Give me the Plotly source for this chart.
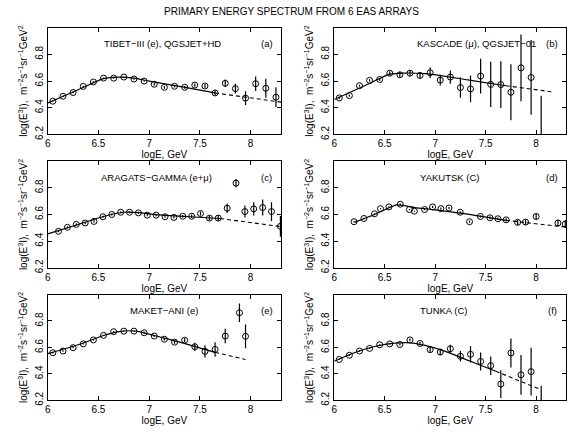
import plotly.graph_objects as go

# ---------------- data ----------------
# (a) TIBET-III
a_x = [6.05, 6.15, 6.25, 6.35, 6.45, 6.55, 6.65, 6.75, 6.85, 6.95, 7.05, 7.15,
       7.25, 7.35, 7.45, 7.55, 7.65, 7.75, 7.85, 7.95, 8.05, 8.15, 8.25]
a_y = [6.449, 6.486, 6.514, 6.56, 6.593, 6.622, 6.622, 6.63, 6.615, 6.6, 6.576, 6.553,
       6.561, 6.553, 6.57, 6.563, 6.511, 6.583, 6.543, 6.472, 6.58, 6.546, 6.479]
a_err = [0.005, 0.005, 0.005, 0.005, 0.005, 0.005, 0.005, 0.005, 0.005, 0.005, 0.01, 0.01,
         0.01, 0.01, 0.012, 0.015, 0.02, 0.028, 0.037, 0.052, 0.054, 0.072, 0.074]
a_line_x = [6.0, 6.3, 6.55, 6.7, 6.85, 7.0, 7.3, 7.65]
a_line_y = [6.435, 6.535, 6.618, 6.63, 6.622, 6.6, 6.56, 6.511]
a_dash_x = [7.65, 8.3]
a_dash_y = [6.511, 6.442]

# (b) KASCADE
b_x = [6.05, 6.15, 6.25, 6.35, 6.45, 6.55, 6.65, 6.75, 6.85, 6.95, 7.05, 7.15,
       7.25, 7.35, 7.45, 7.55, 7.65, 7.75, 7.85, 7.95, 8.05]
b_y = [6.474, 6.491, 6.565, 6.605, 6.612, 6.659, 6.647, 6.659, 6.642, 6.662, 6.607, 6.63,
       6.551, 6.541, 6.637, 6.575, 6.573, 6.516, 6.699, 6.627, 6.12]
b_err = [0.008, 0.008, 0.008, 0.008, 0.01, 0.015, 0.02, 0.022, 0.025, 0.04, 0.04, 0.05,
         0.077, 0.1, 0.13, 0.17, 0.175, 0.21, 0.25, 0.28, 0.37]
b_line_x = [6.0, 6.3, 6.55, 6.7, 6.9, 7.1, 7.4, 7.7]
b_line_y = [6.462, 6.565, 6.652, 6.66, 6.655, 6.635, 6.60, 6.565]
b_dash_x = [7.7, 8.15]
b_dash_y = [6.565, 6.52]

# (c) ARAGATS-GAMMA
c_x = [6.106, 6.194, 6.281, 6.369, 6.456, 6.544, 6.631, 6.719, 6.806, 6.894, 6.981, 7.069,
       7.156, 7.244, 7.331, 7.419, 7.506, 7.594, 7.681, 7.769, 7.856, 7.944, 8.031, 8.119,
       8.206, 8.294]
c_y = [6.474, 6.504, 6.526, 6.536, 6.548, 6.583, 6.6, 6.617, 6.617, 6.612, 6.595, 6.595,
       6.583, 6.578, 6.587, 6.587, 6.607, 6.573, 6.573, 6.647, 6.835, 6.622, 6.642, 6.652,
       6.622, 6.511]
c_err = [0.008, 0.008, 0.008, 0.008, 0.008, 0.008, 0.008, 0.008, 0.008, 0.008, 0.008, 0.008,
         0.008, 0.008, 0.01, 0.012, 0.015, 0.018, 0.022, 0.035, 0.03, 0.045, 0.05, 0.06,
         0.07, 0.077]
c_line_x = [6.0, 6.3, 6.55, 6.75, 6.9, 7.1, 7.4, 7.7]
c_line_y = [6.455, 6.525, 6.585, 6.617, 6.614, 6.597, 6.583, 6.570]
c_dash_x = [7.7, 8.3]
c_dash_y = [6.570, 6.509]

# (d) YAKUTSK
d_x = [6.196, 6.294, 6.399, 6.458, 6.542, 6.654, 6.745, 6.794, 6.895, 6.974, 7.056, 7.137,
       7.248, 7.34, 7.448, 7.542, 7.621, 7.703, 7.817, 7.895, 8.0, 8.216, 8.288]
d_y = [6.546, 6.570, 6.605, 6.644, 6.657, 6.677, 6.637, 6.625, 6.637, 6.657, 6.644, 6.649,
       6.617, 6.546, 6.585, 6.575, 6.568, 6.56, 6.541, 6.543, 6.585, 6.536, 6.528]
d_err = [0.005, 0.005, 0.005, 0.005, 0.005, 0.005, 0.005, 0.005, 0.005, 0.008, 0.008, 0.008,
         0.008, 0.008, 0.008, 0.01, 0.01, 0.012, 0.02, 0.02, 0.022, 0.025, 0.03]
d_line_x = [6.2, 6.4, 6.62, 6.8, 7.0, 7.3, 7.7]
d_line_y = [6.541, 6.60, 6.672, 6.652, 6.635, 6.605, 6.556]
d_dash_x = [7.7, 8.3]
d_dash_y = [6.556, 6.505]

# (e) MAKET-ANI
e_x = [6.05, 6.15, 6.25, 6.35, 6.45, 6.55, 6.65, 6.75, 6.85, 6.95, 7.05, 7.15,
       7.25, 7.35, 7.45, 7.55, 7.65, 7.75, 7.89, 7.95]
e_y = [6.56, 6.573, 6.598, 6.627, 6.657, 6.691, 6.719, 6.723, 6.723, 6.711, 6.686, 6.662,
       6.64, 6.654, 6.605, 6.57, 6.585, 6.686, 6.862, 6.684]
e_err = [0.005, 0.005, 0.005, 0.005, 0.005, 0.005, 0.005, 0.005, 0.005, 0.008, 0.008, 0.01,
         0.012, 0.015, 0.03, 0.047, 0.055, 0.055, 0.07, 0.09]
e_line_x = [6.0, 6.3, 6.55, 6.7, 6.8, 6.9, 7.05, 7.3, 7.65]
e_line_y = [6.553, 6.62, 6.69, 6.72, 6.726, 6.72, 6.69, 6.64, 6.563]
e_dash_x = [7.65, 7.95]
e_dash_y = [6.563, 6.509]

# (f) TUNKA
f_x = [6.05, 6.15, 6.25, 6.35, 6.45, 6.55, 6.65, 6.75, 6.85, 6.95, 7.05, 7.15,
       7.25, 7.35, 7.45, 7.55, 7.65, 7.75, 7.85, 7.95, 8.05]
f_y = [6.509, 6.541, 6.573, 6.593, 6.62, 6.627, 6.622, 6.657, 6.63, 6.583, 6.565, 6.59,
       6.533, 6.548, 6.494, 6.462, 6.323, 6.558, 6.393, 6.417, 6.14]
f_err = [0.005, 0.005, 0.005, 0.005, 0.005, 0.005, 0.008, 0.01, 0.012, 0.02, 0.025, 0.03,
         0.04, 0.062, 0.068, 0.07, 0.105, 0.11, 0.15, 0.18, 0.17]
f_line_x = [6.0, 6.2, 6.4, 6.6, 6.75, 6.9, 7.1, 7.3, 7.5, 7.6]
f_line_y = [6.496, 6.56, 6.607, 6.632, 6.635, 6.615, 6.57, 6.51, 6.45, 6.42]
f_dash_x = [7.6, 7.8, 8.05]
f_dash_y = [6.42, 6.36, 6.28]

panel_titles = ["TIBET\u2212III (e), QGSJET+HD", "KASCADE (\u03bc), QGSJET\u221201",
                "ARAGATS\u2212GAMMA (e+\u03bc)", "YAKUTSK (C)",
                "MAKET\u2212ANI (e)", "TUNKA (C)"]
panel_tags = ["(a)", "(b)", "(c)", "(d)", "(e)", "(f)"]
x_ticks = [6, 6.5, 7, 7.5, 8]
x_tick_text = ["6", "6.5", "7", "7.5", "8"]
y_ticks = [6.2, 6.4, 6.6, 6.8]
y_tick_text = ["6.2", "6.4", "6.6", "6.8"]
main_title = "PRIMARY ENERGY SPECTRUM FROM 6 EAS ARRAYS"
x_title = "logE, GeV"
y_title = "log(E<sup>3</sup>I),  m<sup>\u22122</sup>s<sup>\u22121</sup>sr<sup>\u22121</sup>GeV<sup>2</sup>"

panels = [
    (a_x, a_y, a_err, a_line_x, a_line_y, a_dash_x, a_dash_y),
    (b_x, b_y, b_err, b_line_x, b_line_y, b_dash_x, b_dash_y),
    (c_x, c_y, c_err, c_line_x, c_line_y, c_dash_x, c_dash_y),
    (d_x, d_y, d_err, d_line_x, d_line_y, d_dash_x, d_dash_y),
    (e_x, e_y, e_err, e_line_x, e_line_y, e_dash_x, e_dash_y),
    (f_x, f_y, f_err, f_line_x, f_line_y, f_dash_x, f_dash_y),
]
title_x = [7.13, 7.41, 7.07, 7.14, 7.15, 7.09]

# ---------------- layout geometry ----------------
W, H = 567, 432
x_domains = [[45 / W, 279.5 / W], [333 / W, 0.999]]
y_domains = [[1 - 136 / H, 1 - 28 / H], [1 - 271 / H, 1 - 163 / H], [1 - 405 / H, 1 - 298 / H]]

FONT = "Liberation Sans, Arial, sans-serif"
fig = go.Figure()
layout = dict(
    width=W, height=H, margin=dict(l=0, r=0, t=0, b=0),
    paper_bgcolor="white", plot_bgcolor="white", showlegend=False,
    font=dict(family=FONT, size=10, color="black"),
    annotations=[],
)

for i, (px, py, pe, lx, ly, dx, dy) in enumerate(panels):
    n = i + 1
    xa = "x" if n == 1 else f"x{n}"
    ya = "y" if n == 1 else f"y{n}"
    row, col = i // 2, i % 2
    fig.add_trace(go.Scatter(x=lx, y=ly, mode="lines", xaxis=xa, yaxis=ya,
                             line=dict(color="black", width=1.2, shape="spline", smoothing=0.6),
                             hoverinfo="skip"))
    fig.add_trace(go.Scatter(x=dx, y=dy, mode="lines", xaxis=xa, yaxis=ya,
                             line=dict(color="black", width=1.1, dash="4px,3px"),
                             hoverinfo="skip"))
    fig.add_trace(go.Scatter(x=px, y=py, mode="markers", xaxis=xa, yaxis=ya,
                             marker=dict(symbol="circle-open", size=6, color="black",
                                         line=dict(width=1, color="black")),
                             error_y=dict(type="data", array=pe, color="black",
                                          thickness=1.2, width=0)))
    axcommon = dict(showline=True, linecolor="black", linewidth=1, mirror="ticks",
                    ticks="inside", ticklen=4, tickcolor="black", tickwidth=1,
                    showgrid=False, zeroline=False, tickfont=dict(size=10, family=FONT))
    layout["xaxis" if n == 1 else f"xaxis{n}"] = dict(
        axcommon, domain=x_domains[col], range=[6, 8.3], anchor=ya,
        tickvals=x_ticks, ticktext=x_tick_text,
        title=dict(text=x_title, standoff=0, font=dict(size=10, family=FONT)))
    layout["yaxis" if n == 1 else f"yaxis{n}"] = dict(
        axcommon, domain=y_domains[row], range=[6.2, 7.0], anchor=xa,
        tickvals=y_ticks, ticktext=y_tick_text, tickangle=-90,
        title=dict(text=y_title, standoff=4, font=dict(size=10, family=FONT)))
    layout["annotations"].append(dict(
        x=title_x[i], y=6.88, xref=xa, yref=ya, text=panel_titles[i], showarrow=False,
        font=dict(size=9.5, family=FONT), xanchor="center", yanchor="middle"))
    layout["annotations"].append(dict(
        x=8.16, y=6.88, xref=xa, yref=ya, text=panel_tags[i], showarrow=False,
        font=dict(size=9.5, family=FONT), xanchor="center", yanchor="middle"))

layout["annotations"].append(dict(
    x=290 / W, y=1 - 12 / H, xref="paper", yref="paper", text=main_title, showarrow=False,
    font=dict(size=10, family=FONT), xanchor="center", yanchor="middle"))

fig.update_layout(**layout)
fig.write_html("out.html", config={"displayModeBar": False},
               post_script="document.body.style.margin='0px';document.body.style.overflow='hidden';")
